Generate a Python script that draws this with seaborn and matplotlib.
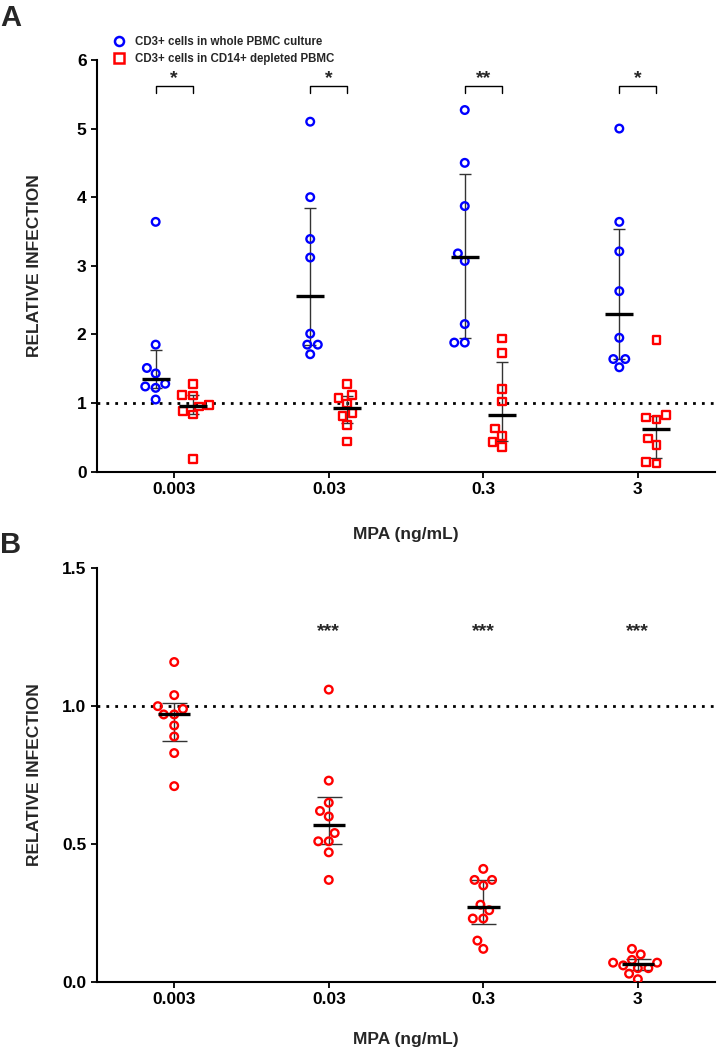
import numpy as np
import pandas as pd
import matplotlib
matplotlib.use("Agg")
import matplotlib.pyplot as plt
import seaborn as sns
from matplotlib.lines import Line2D

sns.set_style("ticks")
plt.rcParams['font.family'] = ['Liberation Sans', 'DejaVu Sans']
plt.rcParams['font.weight'] = 'bold'

# ---- data ----
doses = ["0.003", "0.03", "0.3", "3"]

# panel A: CD3+ cells, 8 donors per dose
whole_pbmc = [
    [3.64, 1.85, 1.51, 1.43, 1.28, 1.24, 1.22, 1.05],
    [5.10, 4.00, 3.39, 3.12, 2.01, 1.85, 1.85, 1.71],
    [5.27, 4.50, 3.87, 3.18, 3.07, 2.15, 1.88, 1.88],
    [5.00, 3.64, 3.21, 2.63, 1.95, 1.64, 1.64, 1.52],
]
cd14_depleted = [
    [1.28, 1.12, 1.11, 0.97, 0.95, 0.88, 0.83, 0.18],
    [1.28, 1.12, 1.07, 0.99, 0.85, 0.81, 0.68, 0.44],
    [1.94, 1.73, 1.20, 1.02, 0.63, 0.52, 0.43, 0.36],
    [1.92, 0.82, 0.79, 0.76, 0.48, 0.39, 0.14, 0.12],
]
stars_a = ["*", "*", "**", "*"]

# panel B: 10 donors per dose
relative_b = [
    [1.16, 1.04, 1.00, 0.99, 0.97, 0.97, 0.93, 0.89, 0.83, 0.71],
    [1.06, 0.73, 0.65, 0.62, 0.60, 0.54, 0.51, 0.51, 0.47, 0.37],
    [0.41, 0.37, 0.37, 0.35, 0.28, 0.26, 0.23, 0.23, 0.15, 0.12],
    [0.12, 0.10, 0.08, 0.07, 0.07, 0.06, 0.05, 0.05, 0.03, 0.01],
]
stars_b = ["", "***", "***", "***"]

legend_labels = ["CD3+ cells in whole PBMC culture",
                 "CD3+ cells in CD14+ depleted PBMC"]


def long_frame(groups, offset):
    rows = []
    for i, vals in enumerate(groups):
        for v in vals:
            rows.append({"pos": i + offset, "dose": doses[i], "value": v})
    return pd.DataFrame(rows)


def draw_swarm(ax, df, color, marker):
    n = len(ax.collections)
    sns.swarmplot(data=df, x="pos", y="value", native_scale=True, orient="x",
                  color=color, marker=marker, size=5.5, linewidth=1.7, ax=ax,
                  zorder=3)
    for coll in ax.collections[n:]:
        coll.set_facecolor("none")
        coll.set_edgecolor(color)
        coll.set_linewidth(1.7)


def draw_median_iqr(ax, df, half_bar, cap):
    # Prism style median with interquartile range
    stats = df.groupby("pos")["value"].apply(
        lambda v: np.percentile(v, [25, 50, 75], method="weibull"))
    for pos, (q1, med, q3) in stats.items():
        ax.errorbar([pos], [med], yerr=[[med - q1], [q3 - med]], fmt="none",
                    ecolor="#333333", elinewidth=1.0, capsize=cap,
                    capthick=1.0, zorder=2)
        ax.hlines(med, pos - half_bar, pos + half_bar, color="black",
                  linewidth=2.4, zorder=4)


def style_axis(ax, xlabel_y):
    sns.despine(ax=ax)
    for s in ["left", "bottom"]:
        ax.spines[s].set_linewidth(1.5)
        ax.spines[s].set_color("black")
    ax.tick_params(axis="both", width=1.3, length=4, labelsize=12.5,
                   colors="black")
    ax.axhline(1, color="black", linestyle=(0, (1, 2.2)), linewidth=2.0,
               zorder=1)
    ax.set_xlim(-0.5, 3.5)
    ax.set_xticks(range(len(doses)))
    ax.set_xticklabels(doses, fontweight="bold")
    ax.set_xlabel("MPA (ng/mL)", fontsize=12.5, fontweight="bold")
    ax.set_ylabel("RELATIVE INFECTION", fontsize=12.5, fontweight="bold")
    ax.yaxis.set_label_coords(-0.089, 0.5)
    ax.xaxis.set_label_coords(0.5, xlabel_y)


fig = plt.figure(figsize=(7.18, 10.5), dpi=100)
ax_a = fig.add_axes([0.135, 0.5509, 0.861, 0.392])
ax_b = fig.add_axes([0.135, 0.0648, 0.861, 0.394])

# ---- panel A ----
off = 0.12
df_whole = long_frame(whole_pbmc, -off)
df_depl = long_frame(cd14_depleted, off)
draw_swarm(ax_a, df_whole, "#0000FF", "o")
draw_swarm(ax_a, df_depl, "#FF0000", "s")
draw_median_iqr(ax_a, df_whole, 0.09, 4)
draw_median_iqr(ax_a, df_depl, 0.09, 4)
style_axis(ax_a, -0.135)
ax_a.set_ylim(0, 6)
ax_a.set_yticks(range(0, 7))
ax_a.set_yticklabels([str(t) for t in range(0, 7)], fontweight="bold")

for i, s in enumerate(stars_a):
    ax_a.plot([i - off, i - off, i + off, i + off], [5.52, 5.62, 5.62, 5.52],
              color="black", linewidth=1.0)
    ax_a.text(i, 5.6, s, ha="center", va="bottom", fontsize=14,
              fontweight="bold")

handles = [
    Line2D([], [], marker="o", linestyle="none", markerfacecolor="none",
           markeredgecolor="#0000FF", markeredgewidth=1.8, markersize=6.5),
    Line2D([], [], marker="s", linestyle="none", markerfacecolor="none",
           markeredgecolor="#FF0000", markeredgewidth=1.8, markersize=6.5),
]
fig.legend(handles, legend_labels, loc="upper left",
           bbox_to_anchor=(113 / 718, 1 - 36 / 1050), frameon=False,
           prop={"weight": "bold", "size": 8.3}, handlelength=1.0,
           handletextpad=0.9, labelspacing=0.45, borderpad=0,
           borderaxespad=0)

# ---- panel B ----
df_b = long_frame(relative_b, 0.0)
draw_swarm(ax_b, df_b, "#FF0000", "o")
draw_median_iqr(ax_b, df_b, 0.105, 9)
style_axis(ax_b, -0.122)
ax_b.set_ylim(0, 1.5)
ax_b.set_yticks([0, 0.5, 1.0, 1.5])
ax_b.set_yticklabels(["0.0", "0.5", "1.0", "1.5"], fontweight="bold")
for i, s in enumerate(stars_b):
    if s:
        ax_b.text(i, 1.27, s, ha="center", va="center", fontsize=14,
                  fontweight="bold")

fig.text(0.0, 1 - 18 / 1050, "A", fontsize=21, fontweight="bold",
         va="center", ha="left")
fig.text(0.0, 1 - 545 / 1050, "B", fontsize=21, fontweight="bold",
         va="center", ha="left")

fig.savefig("out.png", dpi=100)
